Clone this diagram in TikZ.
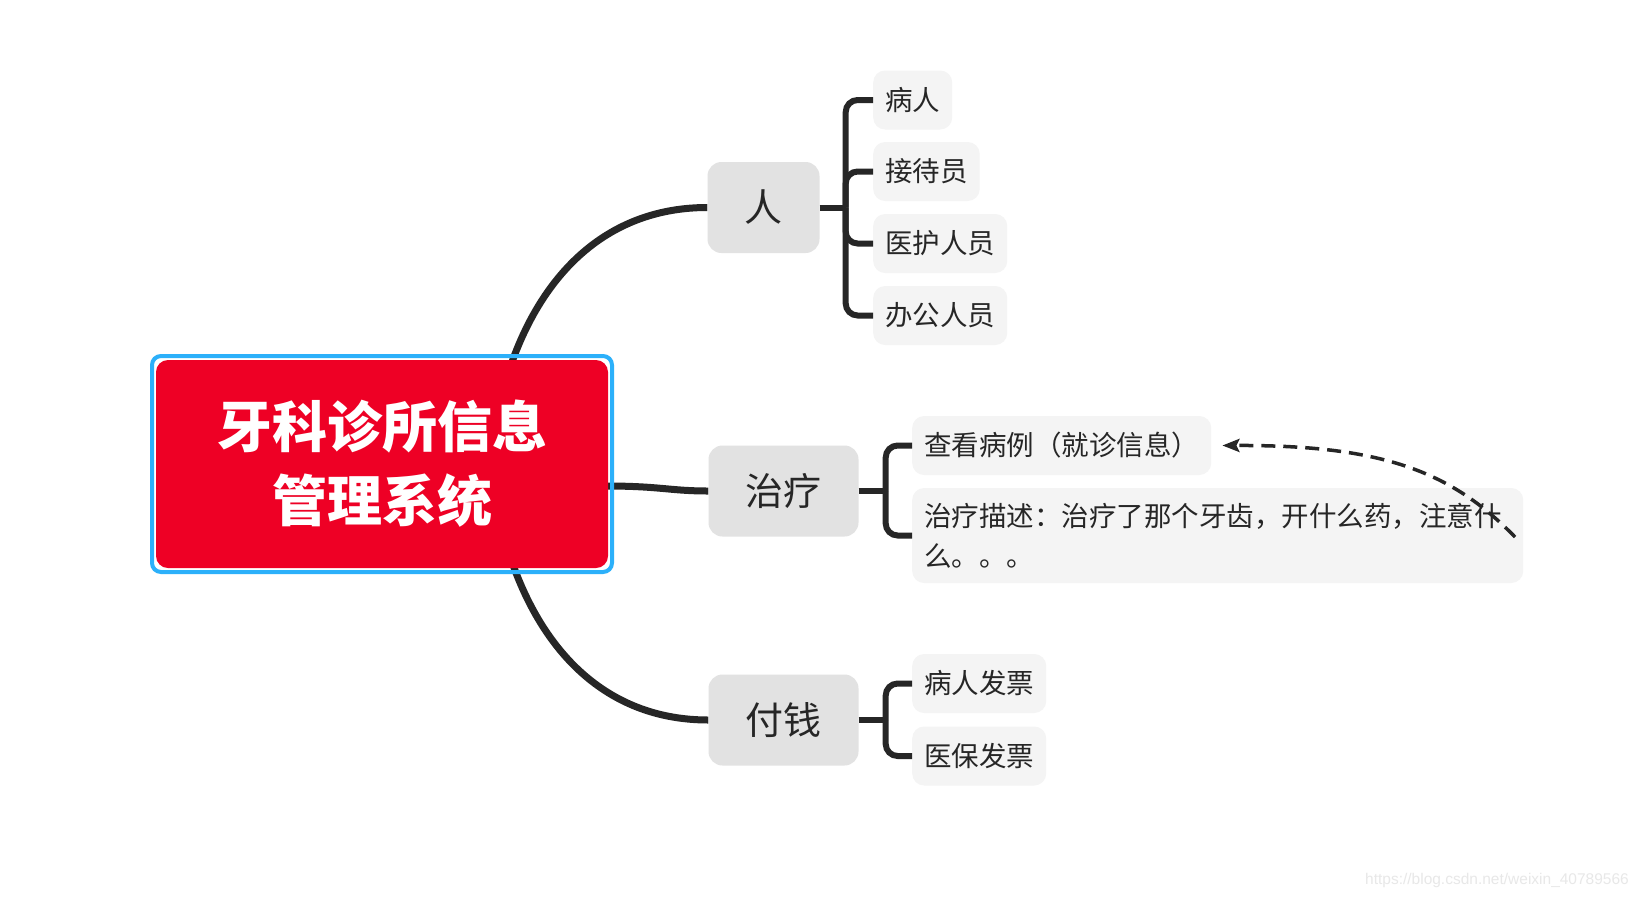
\documentclass[tikz,border=0pt]{standalone}
\usepackage{fontspec}
\newfontfamily\cjk{Noto Sans CJK SC}
\newfontfamily\marksf{Liberation Sans}
\usetikzlibrary{arrows.meta,backgrounds}

\definecolor{titlered}{RGB}{238,0,37}
\definecolor{framebl}{RGB}{44,176,250}
\definecolor{topicgray}{RGB}{226,226,226}
\definecolor{leafgray}{RGB}{244,244,244}
\definecolor{linedark}{RGB}{38,38,38}
\definecolor{marktext}{RGB}{232,232,232}

\tikzset{
    title/.style={fill=titlered, rounded corners=12pt, minimum width=452pt, minimum height=208pt,
        text=white, align=center, font=\cjk\bfseries\fontsize{55}{74}\selectfont},
    frame/.style={draw=framebl, line width=4pt, rounded corners=9pt, minimum width=460pt, minimum height=216pt},
    topic/.style={fill=topicgray, rounded corners=14pt, minimum height=91pt, inner xsep=37pt,
        text=linedark, font=\cjk\fontsize{38}{46}\selectfont},
    leaf/.style={fill=leafgray, rounded corners=12pt, minimum height=59pt, inner xsep=12pt, anchor=west,
        text=linedark, font=\cjk\fontsize{27.5}{40}\selectfont},
    link/.style={draw=linedark, line width=7pt},
    brace/.style={draw=linedark, line width=6pt, rounded corners=12pt},
    relation/.style={draw=linedark, line width=3.5pt, dash pattern=on 14pt off 8pt,
        -{Stealth[length=17pt,width=13pt,inset=3pt]}}
}

\begin{document}
\begin{tikzpicture}[x=1pt,y=-1pt]
    \useasboundingbox (0,0) rectangle (1642,898);

    % central topic
    \node[title] (title) at (382,464) {牙科诊所信息\\管理系统};
    \node[frame] (frame) at (title.center) {};
    \coordinate (titletop) at (512,362);
    \coordinate (titleright) at (606,486);
    \coordinate (titlebot) at (512,562);

    % main topics
    \node[topic] (ren) at (763.5,207.5) {人};
    \node[topic] (treat) at (783.5,491) {治疗};
    \node[topic] (pay) at (783.5,720) {付钱};

    % leaves
    \node[leaf] (patient) at (873,100) {病人};
    \node[leaf] (desk) at (873,171.5) {接待员};
    \node[leaf] (medic) at (873,243.5) {医护人员};
    \node[leaf] (office) at (873,315.5) {办公人员};

    \node[leaf] (case) at (912,445.5) {查看病例（就诊信息）};
    \node[leaf, minimum height=95pt, text width=587pt, align=left] (desc) at (912,535.5)
        {治疗描述：治疗了那个牙齿，开什么药，注意什\\么。。。};

    \node[leaf] (bill) at (912,683.5) {病人发票};
    \node[leaf] (insure) at (912,756) {医保发票};

    \begin{scope}[on background layer]
        \fill[white] (0,0) rectangle (1642,898);
        \draw[link] (titletop) .. controls (545,270) and (610,207.5) .. (ren.west);
        \draw[link] (titleright) .. controls (660,486) and (670,491) .. (treat.west);
        \draw[link] (titlebot) .. controls (545,656) and (610,720) .. (pay.west);
    \end{scope}

    % braces
    \draw[brace] (ren.east) -- ++(26,0) coordinate (renfork);
    \draw[brace] (renfork) |- (patient.west);
    \draw[brace] (renfork) |- (desk.west);
    \draw[brace] (renfork) |- (medic.west);
    \draw[brace] (renfork) |- (office.west);

    \draw[brace] (treat.east) -- ++(27,0) coordinate (treatfork);
    \draw[brace] (treatfork) |- (case.west);
    \draw[brace] (treatfork) |- (desc.west);

    \draw[brace] (pay.east) -- ++(27,0) coordinate (payfork);
    \draw[brace] (payfork) |- (bill.west);
    \draw[brace] (payfork) |- (insure.west);

    % relation
    \coordinate (relstart) at (1515,537);
    \draw[relation] (relstart) .. controls (1450,470) and (1380,445) .. ([xshift=11pt]case.east);

    \node[text=marktext, font=\marksf\fontsize{15.5}{16}\selectfont] (mark) at (1497,880)
        {https://blog.csdn.net/weixin\_40789566};
\end{tikzpicture}
\end{document}
